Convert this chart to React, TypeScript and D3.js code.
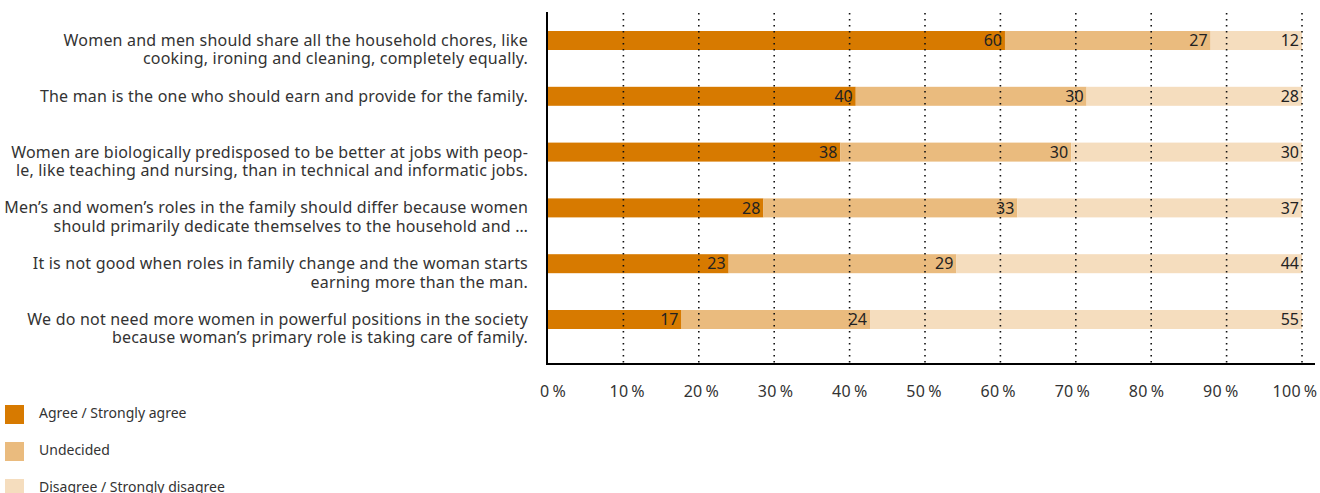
import React from "react";
import * as d3 from "d3";

const categories: string[][] = [
  ["Women and men should share all the household chores, like", "cooking, ironing and cleaning, completely equally."],
  ["The man is the one who should earn and provide for the family."],
  ["Women are biologically predisposed to be better at jobs with peop-", "le, like teaching and nursing, than in technical and informatic jobs."],
  ["Men’s and women’s roles in the family should differ because women", "should primarily dedicate themselves to the household and …"],
  ["It is not good when roles in family change and the woman starts", "earning more than the man."],
  ["We do not need more women in powerful positions in the society", "because woman’s primary role is taking care of family."],
];
const agree = [60, 40, 38, 28, 23, 17];
const undecided = [27, 30, 30, 33, 29, 24];
const disagree = [12, 28, 30, 37, 44, 55];
const seriesNames = ["Agree / Strongly agree", "Undecided", "Disagree / Strongly disagree"];
const seriesColors = ["#d77a00", "#eabb7e", "#f5ddbe"];
const ticks = [0, 0.1, 0.2, 0.3, 0.4, 0.5, 0.6, 0.7, 0.8, 0.9, 1];

const FONT = "'Noto Sans', 'Open Sans', sans-serif";

export default function App() {
  const W = 1320, H = 493;
  const x0 = 548, x1 = 1302;
  const yTop = 12.6, yBot = 347.4, axisY = 364;

  const rows = categories.map((c, i) => ({ i, a: agree[i], u: undecided[i], d: disagree[i] }));
  const stack = d3.stack<any>().keys(["a", "u", "d"]).offset(d3.stackOffsetExpand);
  const series = stack(rows);

  const x = d3.scaleLinear().domain([0, 1]).range([x0, x1]);
  const xLabel = d3.scaleLinear().domain([0, 1]).range([553, 1295]);
  const y = d3.scaleBand<number>().domain(rows.map((r) => r.i)).range([yTop, yBot]).paddingInner(0.66).paddingOuter(0.33);
  const bh = 19;

  return (
    <svg width={W} height={H} style={{ position: "absolute", left: 0, top: 0 }} fontFamily={FONT}>
      {/* bars */}
      {series.map((s, si) =>
        s.map((d, ri) => {
          const cy = (y(ri) as number) + y.bandwidth() / 2;
          return (
            <rect key={si + "-" + ri} x={x(d[0])} y={cy - bh / 2} width={x(d[1]) - x(d[0])} height={bh} fill={seriesColors[si]} />
          );
        })
      )}
      {/* gridlines */}
      {ticks.filter((t) => t > 0).map((t) => (
        <line key={"o" + t} x1={x(t)} x2={x(t)} y1={13} y2={axisY} stroke="#111" strokeWidth={1.6} strokeDasharray="1.6,4.4" />
      ))}
      {/* value labels */}
      {series.map((s, si) =>
        s.map((d, ri) => {
          const cy = (y(ri) as number) + y.bandwidth() / 2;
          const v = [agree, undecided, disagree][si][ri];
          return (
            <text key={"v" + si + "-" + ri} x={x(d[1]) - 3} y={cy} dy="0.36em" textAnchor="end" fontSize={16} fill="#222">
              {v}
            </text>
          );
        })
      )}
      {/* axes */}
      <line x1={x0 - 1} x2={x0 - 1} y1={12} y2={axisY + 1} stroke="#000" strokeWidth={2} />
      <line x1={x0 - 2} x2={1315} y1={axisY} y2={axisY} stroke="#000" strokeWidth={2} />
      {ticks.map((t) => (
        <text key={"t" + t} x={xLabel(t)} y={391} dy="0.36em" textAnchor="middle" fontSize={16} fill="#333" letterSpacing={0.3}>
          {Math.round(t * 100) + "\u2009%"}
        </text>
      ))}
      {/* category labels */}
      {categories.map((c, ri) => {
        const cy = (y(ri) as number) + y.bandwidth() / 2;
        return (
          <text key={"c" + ri} textAnchor="end" fontSize={16} fill="#333" letterSpacing={0.2}>
            {c.map((line, li) => (
              <tspan key={li} x={528} y={cy + li * 18.5} dy="0.34em">
                {line}
              </tspan>
            ))}
          </text>
        );
      })}
      {/* legend */}
      {seriesNames.map((n, i) => (
        <g key={"l" + i} transform={`translate(5, ${405 + i * 37})`}>
          <rect x={0} y={0} width={19} height={19} fill={seriesColors[i]} />
          <text x={34} y={7.5} dy="0.36em" fontSize={14} fill="#333">
            {n}
          </text>
        </g>
      ))}
    </svg>
  );
}
